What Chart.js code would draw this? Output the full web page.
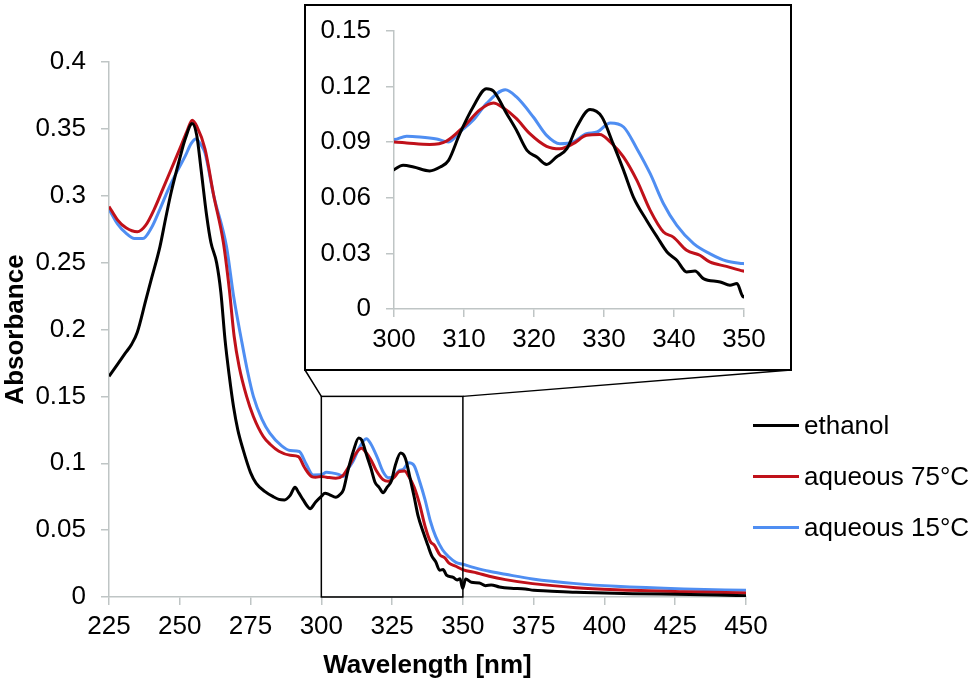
<!DOCTYPE html>
<html>
<head>
<meta charset="utf-8">
<title>Absorbance spectra</title>
<script src="https://cdn.jsdelivr.net/npm/chart.js@4.4.1/dist/chart.umd.min.js"></script>
<style>
  body { margin: 0; background: #fff; font-family: "Liberation Sans", Arial, sans-serif; }
  #wrap { position: relative; width: 975px; height: 684px; overflow: hidden; }
  #main { position: absolute; left: 0; top: 0; }
  #insetBox { position: absolute; left: 304px; top: 4px; width: 488px; height: 367px;
              box-sizing: border-box; border: 2px solid #000; background: #fff; }
  #inset { position: absolute; left: 0; top: 0; }
  #legend { position: absolute; left: 753px; top: 400px; }
  .row { display: flex; align-items: center; height: 51px; font-size: 26px; color: #000; white-space: nowrap; }
  .swatch { width: 46px; height: 3px; margin-right: 5px; }
</style>
</head>
<body>
<div id="wrap">
  <canvas id="main" width="975" height="684"></canvas>
  <div id="insetBox"><canvas id="inset" width="484" height="363"></canvas></div>
  <div id="legend"></div>
</div>
<script>
// series: wavelength [nm] and absorbance
const ethanolNm = [225, 228, 231, 233, 235, 238, 240, 243, 245, 247, 250, 252, 254.4, 256, 257.5, 259.5, 261, 263, 264.5, 266,
  267.5, 269, 270.5, 272.4, 275, 277, 280, 283, 285, 287, 289, 290.7, 292, 293.6, 295, 296, 298, 300, 301.3, 302.8,
  305.1, 306.6, 307.8, 309.4, 311.3, 313.2, 314.2, 316.1, 317.5, 319, 320.4, 321.8, 323.2, 324.7, 326.1, 328, 329.7, 331.3,
  332.8, 334.2, 336.1, 337.6, 339, 340.4, 341.8, 343, 344.2, 346.6, 348, 349, 349.9, 351, 353, 355.8, 358, 360, 362.9,
  367, 372, 375, 380, 390, 400, 410, 425, 440, 450];
const ethanolAbs = [0.165, 0.174, 0.183, 0.189, 0.198, 0.222, 0.238, 0.262, 0.283, 0.303, 0.328, 0.343, 0.354, 0.345, 0.32, 0.285, 0.265, 0.25, 0.228, 0.192,
  0.165, 0.142, 0.125, 0.11, 0.093, 0.085, 0.079, 0.075, 0.073, 0.0726, 0.076, 0.082, 0.078, 0.0726, 0.068, 0.066, 0.071, 0.0752, 0.0775, 0.0766,
  0.0745, 0.0766, 0.0802, 0.0946, 0.109, 0.1189, 0.1176, 0.1054, 0.0964, 0.0856, 0.082, 0.078, 0.082, 0.0865, 0.0982, 0.1076, 0.1036, 0.0892,
  0.0748, 0.0604, 0.0478, 0.0388, 0.0308, 0.0263, 0.020, 0.0205, 0.0164, 0.0146, 0.0128, 0.0137, 0.0065, 0.0135, 0.011, 0.0105, 0.0085, 0.009, 0.0075,
  0.0065, 0.006, 0.005, 0.0045, 0.0035, 0.003, 0.0025, 0.002, 0.0015, 0.001];

const aq75Nm = [225, 228, 231, 235, 238, 241, 244, 247, 250, 252.5, 254.4, 256, 258.9, 262, 265.4, 267.5, 269.2, 271, 273.6, 276,
  279.5, 282, 285, 289, 291.9, 294, 296.6, 298, 300, 301.8, 305.1, 307.5, 309.9, 312.3, 314.2, 315.6, 317.5, 319.4, 321.8, 323.7,
  325.6, 327.5, 329.4, 330.9, 332.8, 334.7, 336.6, 338.5, 339.9, 341.8, 343.7, 345.1, 347.5, 349.9, 355, 359.3, 365, 374.6, 390, 404,
  428, 450];
const aq75Abs = [0.292, 0.282, 0.276, 0.273, 0.278, 0.29, 0.305, 0.32, 0.335, 0.348, 0.3565, 0.352, 0.335, 0.30, 0.265, 0.23, 0.195, 0.172, 0.15, 0.135,
  0.12, 0.114, 0.109, 0.106, 0.105, 0.097, 0.090, 0.0895, 0.0901, 0.0896, 0.0888, 0.0906, 0.0982, 0.1076, 0.1112, 0.1086, 0.1027, 0.0946, 0.0878, 0.0865,
  0.0892, 0.0937, 0.0942, 0.0901, 0.082, 0.0694, 0.0532, 0.0415, 0.0388, 0.0317, 0.029, 0.0254, 0.023, 0.0205, 0.018, 0.0155, 0.013, 0.010, 0.007, 0.0055,
  0.004, 0.003];

const aq15Nm = [225, 228, 231, 234, 237, 240, 243, 246, 249, 252, 254, 255.7, 257.5, 258.9, 262, 266.5, 269, 271.8, 274, 276,
  279, 281.8, 286, 289, 292.2, 294.5, 297.1, 300, 301.8, 303.7, 306.1, 307.8, 309.4, 311.3, 313.2, 315.9, 317.5, 319.9, 321.8, 323.7,
  325.6, 327.5, 329, 330.9, 332.8, 334.7, 336.6, 338.5, 340.4, 342.8, 345.1, 347.5, 349.9, 354, 359.3, 365, 374.6, 390, 404, 428, 450];
const aq15Abs = [0.290, 0.279, 0.272, 0.268, 0.268, 0.276, 0.29, 0.305, 0.318, 0.33, 0.339, 0.3425, 0.338, 0.332, 0.30, 0.262, 0.225, 0.192, 0.168, 0.15,
  0.133, 0.1225, 0.113, 0.1095, 0.1088, 0.100, 0.0913, 0.0914, 0.0932, 0.0928, 0.0917, 0.0901, 0.0955, 0.1018, 0.1108, 0.1183, 0.1144, 0.1036, 0.0937, 0.0892,
  0.0901, 0.0946, 0.0955, 0.1004, 0.0982, 0.0865, 0.073, 0.0568, 0.0451, 0.0353, 0.0299, 0.0259, 0.0245, 0.022, 0.0192, 0.017, 0.0135, 0.010, 0.008, 0.006, 0.005];

const seriesNames = ['ethanol', 'aqueous 75°C', 'aqueous 15°C'];
const seriesColors = ['#000000', '#c0111a', '#4f8ef2'];

const mainXTicks = [225, 250, 275, 300, 325, 350, 375, 400, 425, 450];
const mainYTicks = [0, 0.05, 0.1, 0.15, 0.2, 0.25, 0.3, 0.35, 0.4];
const insetXTicks = [300, 310, 320, 330, 340, 350];
const insetYTicks = [0, 0.03, 0.06, 0.09, 0.12, 0.15];
const zoomRange = [300, 350, 0, 0.15];

const FONT = '"Liberation Sans", Arial, sans-serif';
const AXIS = '#bfc5c5';

function pairs(xs, ys) {
  return xs.map((x, i) => ({ x: x, y: ys[i] }));
}
function datasets() {
  const d = [pairs(ethanolNm, ethanolAbs), pairs(aq75Nm, aq75Abs), pairs(aq15Nm, aq15Abs)];
  return d.map((pts, i) => ({
    label: seriesNames[i],
    data: pts,
    borderColor: seriesColors[i],
    borderWidth: 3,
    pointRadius: 0,
    cubicInterpolationMode: 'monotone',
    fill: false
  }));
}
function fmt(v) { return String(+v.toFixed(2)); }

// fixed axis box so the plot area lands where the picture has it
function fixX(h) {
  return s => { s.height = h; s.paddingLeft = 0; s.paddingRight = 0; };
}
function fixY(w) {
  return s => { s.width = w; s.paddingTop = 0; s.paddingBottom = 0; };
}

function axis(ticks, pad, opts) {
  return Object.assign({
    type: 'linear',
    min: ticks[0],
    max: ticks[ticks.length - 1],
    afterBuildTicks: s => { s.ticks = ticks.map(v => ({ value: v })); },
    grid: { drawOnChartArea: false, drawTicks: true, tickLength: 8, color: AXIS, lineWidth: 1.5 },
    border: { display: true, color: AXIS, width: 1.5 },
    ticks: { color: '#000', padding: pad, font: { size: 26, family: FONT }, maxRotation: 0, autoSkip: false, callback: fmt }
  }, opts);
}

// zoom box + connectors to the inset frame
const zoomBox = {
  id: 'zoomBox',
  afterDatasetsDraw(chart) {
    const x = chart.scales.x, y = chart.scales.y, c = chart.ctx;
    const l = x.getPixelForValue(zoomRange[0]), r = x.getPixelForValue(zoomRange[1]);
    const b = y.getPixelForValue(zoomRange[2]), t = y.getPixelForValue(zoomRange[3]);
    c.save();
    c.strokeStyle = '#000';
    c.lineWidth = 1.5;
    c.strokeRect(l, t, r - l, b - t);
    c.beginPath();
    c.moveTo(l, t); c.lineTo(305, 370);
    c.moveTo(r, t); c.lineTo(791, 370);
    c.stroke();
    c.restore();
  }
};

Chart.defaults.font.family = FONT;

new Chart(document.getElementById('main'), {
  type: 'line',
  data: { datasets: datasets() },
  options: {
    responsive: false,
    animation: false,
    layout: { padding: { left: 0, top: 62, right: 229, bottom: 0 } },
    plugins: { legend: { display: false }, tooltip: { enabled: false } },
    scales: {
      x: axis(mainXTicks, 6, {
        afterFit: fixX(87),
        title: { display: true, text: 'Wavelength [nm]', color: '#000',
                 font: { size: 26, weight: 'bold', family: FONT }, padding: { top: 0, bottom: 3 } }
      }),
      y: axis(mainYTicks, 15, {
        afterFit: fixY(109),
        title: { display: true, text: 'Absorbance', color: '#000',
                 font: { size: 26, weight: 'bold', family: FONT }, padding: { top: 0, bottom: 0 } }
      })
    }
  },
  plugins: [zoomBox]
});

new Chart(document.getElementById('inset'), {
  type: 'line',
  data: { datasets: datasets() },
  options: {
    responsive: false,
    animation: false,
    layout: { padding: { left: 0, top: 25, right: 46, bottom: 0 } },
    plugins: { legend: { display: false }, tooltip: { enabled: false } },
    scales: {
      x: axis(insetXTicks, 7, { afterFit: fixX(60) }),
      y: axis(insetYTicks, 15, { afterFit: fixY(88) })
    }
  }
});

// legend
const leg = document.getElementById('legend');
seriesNames.forEach((n, i) => {
  const row = document.createElement('div');
  row.className = 'row';
  row.innerHTML = '<span class="swatch" style="background:' + seriesColors[i] + '"></span><span>' + n + '</span>';
  leg.appendChild(row);
});
</script>
</body>
</html>
